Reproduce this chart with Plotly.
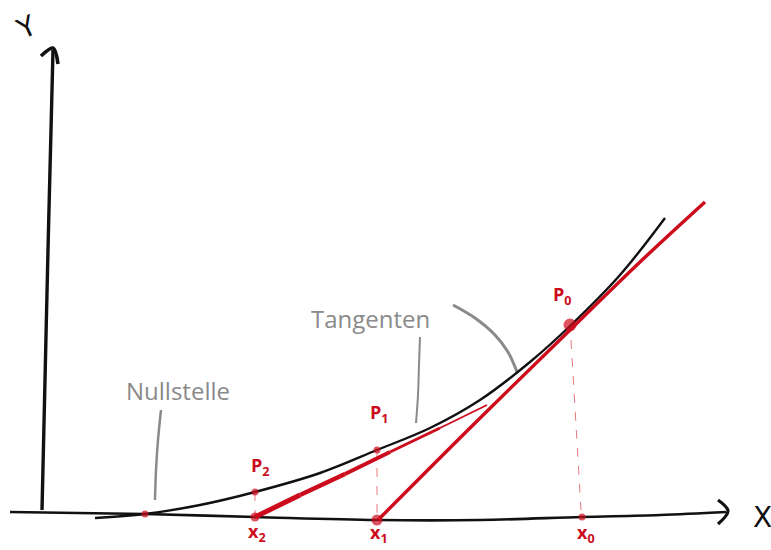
import plotly.graph_objects as go

# --- drawing data (sketch coordinates: x to the right, y downward) ---
curve_x = [95, 145, 200, 255, 320, 377, 430, 480, 530, 570, 620, 665]
curve_y = [518, 514, 505, 492, 473, 450, 428, 400, 362, 326, 275, 218]

xaxis_x = [10, 145, 255, 377, 480, 582, 660, 726]
xaxis_y = [512, 514, 517, 520, 520, 517, 515, 512]
xarrow_x = [718, 728, 718]
xarrow_y = [500, 511, 524]

yaxis_x = [42, 45, 48, 51, 53]
yaxis_y = [510, 380, 250, 130, 50]
yarrow_x = [41, 53, 58]
yarrow_y = [56, 48, 64]

tan0_x = [378, 470, 570, 640, 705]
tan0_y = [520, 428, 330, 262, 202]

tan1_x = [255, 300, 345, 390, 440, 487]
tan1_y = [517, 495, 474, 452, 428, 405]
tan1_w = [5, 4.5, 4, 3, 1.8]

drop_x = [[255, 255], [377, 377], [571, 581]]
drop_y = [[492, 517], [450, 520], [340, 510]]

dot_x = [570, 377, 255, 255, 377, 582, 145]
dot_y = [325, 450, 492, 517, 520, 517, 514]
dot_s = [13, 7, 7, 9, 11, 7, 7]

ptr_null_x = [155, 156, 158, 161]
ptr_null_y = [500, 470, 440, 410]
ptr_tan1_x = [420, 419, 418, 416]
ptr_tan1_y = [337, 365, 395, 423]
ptr_tan0_x = [453, 475, 495, 508, 517]
ptr_tan0_y = [305, 318, 335, 352, 372]

labels_red = [
    ("P<sub>0</sub>", 562, 295),
    ("P<sub>1</sub>", 379, 413),
    ("P<sub>2</sub>", 260, 466),
    ("x<sub>2</sub>", 257, 532),
    ("x<sub>1</sub>", 379, 533),
    ("x<sub>0</sub>", 586, 533),
]
labels_gray = [("Nullstelle", 178, 390), ("Tangenten", 370, 318)]
labels_black = [("Y", 26, 27, -25), ("X", 762, 517, 0)]

RED = "#cc0c1c"
GRAY = "#8a8a8a"
BLACK = "#111111"

fig = go.Figure()

def line(x, y, color, width, dash=None):
    fig.add_trace(go.Scatter(x=x, y=y, mode="lines",
                             line=dict(color=color, width=width, dash=dash, shape="spline"),
                             hoverinfo="skip", showlegend=False))

# axes
line(xaxis_x, xaxis_y, BLACK, 2.6)
line(xarrow_x, xarrow_y, BLACK, 3.2)
line(yaxis_x, yaxis_y, BLACK, 3.4)
line(yarrow_x, yarrow_y, BLACK, 3.6)

# pointer strokes
line(ptr_null_x, ptr_null_y, GRAY, 2.5)
line(ptr_tan1_x, ptr_tan1_y, GRAY, 2)
line(ptr_tan0_x, ptr_tan0_y, GRAY, 3)

# function curve
line(curve_x, curve_y, BLACK, 2.4)

# dashed drop lines
for dx, dy in zip(drop_x, drop_y):
    line(dx, dy, "#e87a80", 1, dash="dash")

# tangents
line(tan0_x, tan0_y, RED, 3.4)
for i, w in enumerate(tan1_w):
    line(tan1_x[i:i + 2], tan1_y[i:i + 2], RED, w)

# points
fig.add_trace(go.Scatter(x=dot_x, y=dot_y, mode="markers",
                         marker=dict(color=RED, size=dot_s, line=dict(width=0)),
                         hoverinfo="skip", showlegend=False))

for t, x, y in labels_red:
    fig.add_annotation(x=x, y=y, text="<b>" + t + "</b>", showarrow=False,
                       font=dict(family="Open Sans", size=18, color=RED))
for t, x, y in labels_gray:
    fig.add_annotation(x=x, y=y, text=t, showarrow=False,
                       font=dict(family="Open Sans", size=24, color=GRAY))
for t, x, y, a in labels_black:
    fig.add_annotation(x=x, y=y, text=t, showarrow=False, textangle=a,
                       font=dict(family="DejaVu Sans", size=28, color=BLACK))

fig.update_layout(
    width=771, height=550,
    margin=dict(l=0, r=0, t=0, b=0),
    paper_bgcolor="white", plot_bgcolor="white",
    xaxis=dict(range=[0, 771], visible=False, fixedrange=True),
    yaxis=dict(range=[550, 0], visible=False, fixedrange=True),
)

fig.write_html("out.html", config={"displayModeBar": False},
               post_script="document.body.style.margin='0';document.body.style.overflow='hidden';")
